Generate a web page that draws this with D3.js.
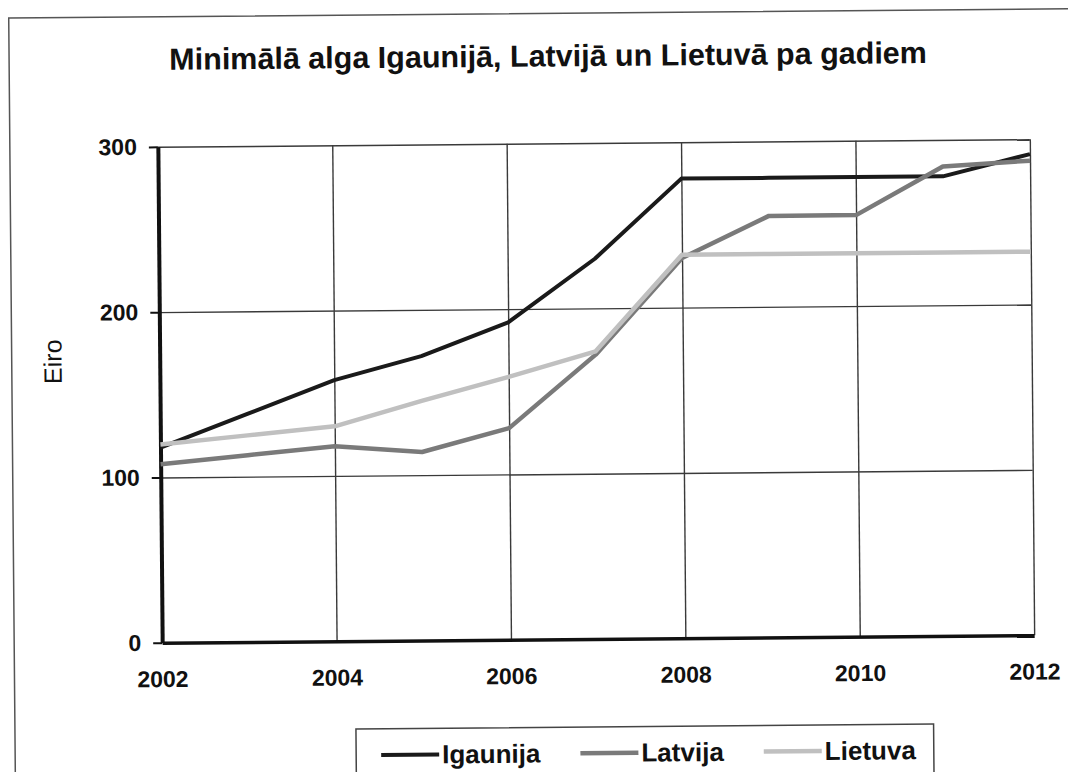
<!DOCTYPE html>
<html>
<head>
<meta charset="utf-8">
<script src="https://cdn.jsdelivr.net/npm/d3@7"></script>
<style>
  body { margin: 0; background: #fff; }
  svg { display: block; font-family: "Liberation Sans", Arial, sans-serif; }
</style>
</head>
<body>
<svg id="chart"></svg>
<script>
const years = [2002, 2003, 2004, 2005, 2006, 2007, 2008, 2009, 2010, 2011, 2012];
const igaunija = [118, 138, 158, 172, 192, 230, 278, 278, 278, 278, 291];
const latvija = [108, 113, 118, 114, 128, 172, 230, 255, 255, 284, 287];
const lietuva = [120, 125, 130, 145, 159, 174, 232, 232, 232, 232, 232];
const seriesNames = ["Igaunija", "Latvija", "Lietuva"];
const xTicks = [2002, 2004, 2006, 2008, 2010, 2012];
const yTicks = [0, 100, 200, 300];
const title = "Minimālā alga Igaunijā, Latvijā un Lietuvā pa gadiem";
const yTitle = "Eiro";

const chartSize = { width: 1068, height: 772 };
const margin = { left: 160, right: 36, top: 143, bottom: 133 };
const width = chartSize.width - margin.left - margin.right;
const height = chartSize.height - margin.top - margin.bottom;

const colors = ["#1a1a1a", "#7a7a7a", "#c0c0c0"];
const lineWidths = [4, 4.5, 4.5];

const svg = d3
  .select("#chart")
  .attr("width", chartSize.width)
  .attr("height", chartSize.height);

svg
  .append("rect")
  .attr("width", chartSize.width)
  .attr("height", chartSize.height)
  .attr("fill", "#fff");

// the scan is slightly tilted
const page = svg.append("g").attr("transform", "rotate(-0.5, 596, 391)");

page
  .append("rect")
  .attr("x", 12)
  .attr("y", 13)
  .attr("width", 1100)
  .attr("height", 800)
  .attr("fill", "none")
  .attr("stroke", "#555")
  .attr("stroke-width", 1.5);

page
  .append("text")
  .attr("x", 551)
  .attr("y", 66)
  .attr("text-anchor", "middle")
  .attr("font-size", 30.5)
  .attr("font-weight", "bold")
  .attr("fill", "#111")
  .text(title);

const g = page
  .append("g")
  .attr("transform", `translate(${margin.left},${margin.top})`);

const x = d3
  .scaleLinear()
  .domain(d3.extent(years))
  .range([0, width]);

const y = d3
  .scaleLinear()
  .domain([0, d3.max(yTicks)])
  .range([height, 0]);

// grid
g.append("g")
  .attr("class", "grid")
  .call(d3.axisLeft(y).tickValues(yTicks.slice(1)).tickSize(-width).tickFormat(""))
  .call(s => s.select(".domain").remove())
  .selectAll("line")
  .attr("stroke", "#3a3a3a")
  .attr("stroke-width", 1.4);

g.append("g")
  .attr("class", "grid")
  .attr("transform", `translate(0,${height})`)
  .call(d3.axisBottom(x).tickValues(xTicks.slice(1)).tickSize(-height).tickFormat(""))
  .call(s => s.select(".domain").remove())
  .selectAll("line")
  .attr("stroke", "#3a3a3a")
  .attr("stroke-width", 1.4);

// axes
const yAxis = g
  .append("g")
  .call(d3.axisLeft(y).tickValues(yTicks).tickSize(9).tickPadding(12).tickSizeOuter(0));
yAxis.select(".domain").attr("stroke", "#111").attr("stroke-width", 4);
yAxis.selectAll(".tick line").attr("stroke", "#111").attr("stroke-width", 2);
yAxis
  .selectAll(".tick text")
  .attr("font-size", 23)
  .attr("font-weight", "bold")
  .attr("font-family", "Liberation Sans, Arial, sans-serif")
  .attr("fill", "#111");

const xAxis = g
  .append("g")
  .attr("transform", `translate(0,${height})`)
  .call(d3.axisBottom(x).tickValues(xTicks).tickSize(0).tickPadding(28).tickFormat(d3.format("d")));
xAxis.select(".domain").attr("stroke", "#111").attr("stroke-width", 3.5);
xAxis
  .selectAll(".tick text")
  .attr("font-size", 23)
  .attr("font-weight", "bold")
  .attr("font-family", "Liberation Sans, Arial, sans-serif")
  .attr("fill", "#111");

g.append("text")
  .attr("transform", `translate(${53 - margin.left},${357 - margin.top}) rotate(-90)`)
  .attr("text-anchor", "middle")
  .attr("dy", "0.35em")
  .attr("font-size", 25)
  .attr("fill", "#111")
  .text(yTitle);

// lines
const series = [igaunija, latvija, lietuva].map((values, i) => ({
  name: seriesNames[i],
  points: years.map((yr, j) => ({ year: yr, value: values[j] }))
}));

const line = d3
  .line()
  .x(d => x(d.year))
  .y(d => y(d.value));

g.selectAll(".series")
  .data(series)
  .enter()
  .append("path")
  .attr("class", "series")
  .attr("fill", "none")
  .attr("stroke", (d, i) => colors[i])
  .attr("stroke-width", (d, i) => lineWidths[i])
  .attr("stroke-linejoin", "round")
  .attr("d", d => line(d.points));

// legend
const legend = page.append("g").attr("transform", "translate(353,727)");
const legendBox = legend
  .append("rect")
  .attr("fill", "#fff")
  .attr("stroke", "#444")
  .attr("stroke-width", 1.5)
  .attr("height", 70);

let cursor = 25;
seriesNames.forEach((name, i) => {
  const item = legend.append("g").attr("transform", `translate(${cursor},0)`);
  item
    .append("line")
    .attr("x1", 0)
    .attr("x2", 58)
    .attr("y1", 26)
    .attr("y2", 26)
    .attr("stroke", colors[i])
    .attr("stroke-width", lineWidths[i]);
  const t = item
    .append("text")
    .attr("x", 61)
    .attr("y", 35)
    .attr("font-size", 26)
    .attr("font-weight", "bold")
    .attr("fill", "#111")
    .text(name);
  cursor += 61 + t.node().getComputedTextLength() + 40;
});
legendBox.attr("width", cursor - 40 + 18);
</script>
</body>
</html>
